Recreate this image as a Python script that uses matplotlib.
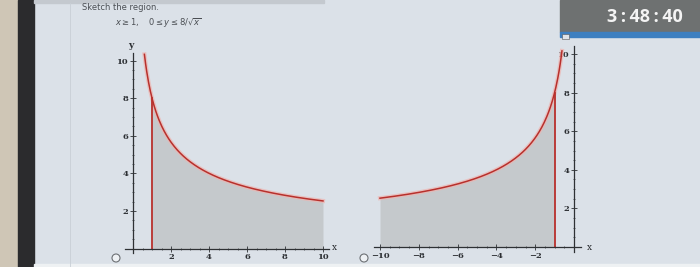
import numpy as np
import matplotlib
matplotlib.use("Agg")
import matplotlib.pyplot as plt
from matplotlib.patches import Rectangle, Ellipse
from matplotlib.ticker import MultipleLocator

# ---- data ----
title_text = "Sketch the region."
condition_text = r"$x \geq 1,\quad 0 \leq y \leq 8/\sqrt{x}$"
left_x_ticks = [2, 4, 6, 8, 10]
right_x_ticks = [-10, -8, -6, -4, -2]
y_ticks = [2, 4, 6, 8, 10]
coef = 8.0
left_bound = 1.0        # x >= 1
left_xmax = 10.0
right_bound = -1.0
right_xmin = -10.0
timer_text = "3\u2009:\u200948\u2009:\u200940"

W, H = 700, 267
fig = plt.figure(figsize=(W / 100, H / 100), dpi=100)
SCREEN = "#dbe1e8"
fig.patch.set_facecolor(SCREEN)

def fx(px):
    return px / W

def fy(py):
    return 1 - py / H

# photo surroundings
fig.patches.append(Rectangle((0, 0), fx(18), 1, transform=fig.transFigure,
                             color="#cfc6b6", zorder=0))
fig.patches.append(Rectangle((fx(18), 0), fx(16), 1, transform=fig.transFigure,
                             color="#2b2b2d", zorder=0))
fig.patches.append(Rectangle((fx(34), fy(3)), fx(290), 3 / H, transform=fig.transFigure,
                             color="#c4c9cf", zorder=0))
fig.patches.append(Rectangle((fx(34), 0), 1, 3 / H, transform=fig.transFigure,
                             color="#eef1f3", zorder=0))
fig.lines.append(plt.Line2D([fx(70), fx(70)], [0, fy(3)], transform=fig.transFigure,
                            color="#c8cfd6", lw=0.6))

TXT = "#2c2f33"
fig.text(fx(82), fy(7), title_text, fontsize=6, color="#4a4e53",
         va="center", ha="left", family="DejaVu Sans")
fig.text(fx(115), fy(23), condition_text, fontsize=6, color="#4a4e53",
         va="center", ha="left")

RED = "#b8302c"
HALO = "#eeb4b0"
FILL = "#c3c7c9"

def make_axes(px0, px1, py_top, py_bot, xlim, ylim):
    ax = fig.add_axes([fx(px0), fy(py_bot), (px1 - px0) / W, (py_bot - py_top) / H])
    ax.set_xlim(*xlim)
    ax.set_ylim(*ylim)
    ax.patch.set_alpha(0)
    for s in ["top", "right"]:
        ax.spines[s].set_visible(False)
    ax.spines["left"].set_position(("data", 0))
    ax.spines["bottom"].set_position(("data", 0))
    for s in ["left", "bottom"]:
        ax.spines[s].set_color("#2e3134")
        ax.spines[s].set_linewidth(0.9)
    ax.xaxis.set_minor_locator(MultipleLocator(0.5))
    ax.yaxis.set_minor_locator(MultipleLocator(0.5))
    ax.tick_params(which="major", direction="inout", length=4, width=0.6,
                   colors="#2e3134", labelsize=6, pad=1.5, labelcolor=TXT)
    ax.tick_params(which="minor", direction="inout", length=2, width=0.5,
                   colors="#2e3134")
    return ax

# left panel: px = 133 + 19*x ; py = 248.5 - 18.8*y
xl = (-0.4, 10.3)
yl = (-0.25, 10.4)
axL = make_axes(133 + 19 * xl[0], 133 + 19 * xl[1],
                248.5 - 18.8 * yl[1], 248.5 - 18.8 * yl[0], xl, yl)
xs = np.linspace(0.6, left_xmax, 300)
xf = np.linspace(left_bound, left_xmax, 300)
axL.fill_between(xf, 0, coef / np.sqrt(xf), color=FILL, alpha=0.9, lw=0)
axL.plot(xs, coef / np.sqrt(xs), color=HALO, lw=3, alpha=0.7, clip_on=False)
axL.plot(xs, coef / np.sqrt(xs), color=RED, lw=1.1, clip_on=False)
axL.plot([left_bound, left_bound], [0, coef / np.sqrt(left_bound)], color=RED, lw=1.3)
axL.set_xticks(left_x_ticks)
axL.set_yticks(y_ticks)
axL.set_xticklabels([str(t) for t in left_x_ticks], family="DejaVu Serif", weight="bold")
axL.set_yticklabels([str(t) for t in y_ticks], family="DejaVu Serif", weight="bold")
fig.text(fx(131), fy(45), "y", fontsize=6.5, color=TXT, family="DejaVu Serif",
         ha="center", va="center", weight="bold")
fig.text(fx(334), fy(248), "x", fontsize=6.5, color=TXT, family="DejaVu Serif",
         ha="center", va="center")

# right panel: px = 574 + 19.4*x ; py = 247 - 19.3*y
xr = (-10.3, 0.35)
yr = (-0.25, 10.4)
axR = make_axes(574 + 19.4 * xr[0], 574 + 19.4 * xr[1],
                247 - 19.3 * yr[1], 247 - 19.3 * yr[0], xr, yr)
xs2 = np.linspace(right_xmin, -0.62, 300)
xf2 = np.linspace(right_xmin, right_bound, 300)
axR.fill_between(xf2, 0, coef / np.sqrt(-xf2), color=FILL, alpha=0.9, lw=0)
axR.plot(xs2, coef / np.sqrt(-xs2), color=HALO, lw=3, alpha=0.7, clip_on=False)
axR.plot(xs2, coef / np.sqrt(-xs2), color=RED, lw=1.1, clip_on=False)
axR.plot([right_bound, right_bound], [0, coef / np.sqrt(-right_bound)], color=RED, lw=1.3)
axR.set_xticks(right_x_ticks)
axR.set_yticks(y_ticks)
axR.set_xticklabels(["\u2212" + str(-t) for t in right_x_ticks], family="DejaVu Serif",
                    weight="bold")
axR.set_yticklabels([str(t) for t in y_ticks], family="DejaVu Serif", weight="bold")
fig.text(fx(589), fy(248), "x", fontsize=6.5, color=TXT, family="DejaVu Serif",
         ha="center", va="center")

# radio buttons
for cx in (116, 364):
    fig.patches.append(Ellipse((fx(cx), fy(258)), 8 / W, 8 / H, transform=fig.transFigure,
                               facecolor="#eef1f4", edgecolor="#6d7175", lw=0.8))

# timer overlay
fig.patches.append(Rectangle((fx(560), fy(32)), 140 / W, 32 / H, transform=fig.transFigure,
                             color="#6e7171", zorder=5))
fig.patches.append(Rectangle((fx(560), fy(37)), 140 / W, 5 / H, transform=fig.transFigure,
                             color="#3d7fc0", zorder=5))
fig.patches.append(Rectangle((fx(562), fy(39)), 7 / W, 5 / H, transform=fig.transFigure,
                             facecolor="#dfe3e8", edgecolor="#555", lw=0.4, zorder=6))
fig.text(fx(645), fy(17), timer_text, fontsize=13, color="#f4f4f4", fontweight="bold",
         family=["Open Sans", "DejaVu Sans"], ha="center", va="center", zorder=7)

fig.savefig("out.png", dpi=100, facecolor=fig.get_facecolor())
